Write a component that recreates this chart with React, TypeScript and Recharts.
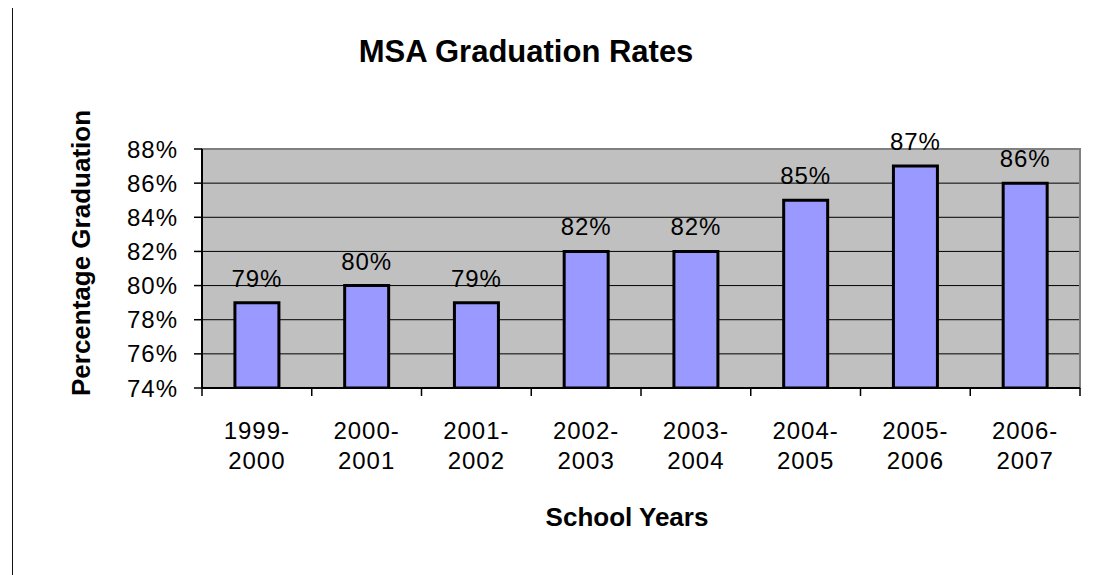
import { BarChart, Bar, XAxis, YAxis, CartesianGrid, ReferenceArea, LabelList } from "recharts";

const schoolYears = ["1999-2000", "2000-2001", "2001-2002", "2002-2003", "2003-2004", "2004-2005", "2005-2006", "2006-2007"];
const gradRates = [79, 80, 79, 82, 82, 85, 87, 86];
const yTicks = [74, 76, 78, 80, 82, 84, 86, 88];

const data = schoolYears.map((year, i) => ({ year, rate: gradRates[i] }));

const font = "'Liberation Sans', Arial, sans-serif";

function YearTick(props: any) {
  const { x, y, payload, index, visibleTicksCount } = props;
  const half = payload.offset || 0;
  const [a, b] = String(payload.value).split("-");
  return (
    <g>
      <line x1={x - half} x2={x - half} y1={y} y2={y + 8} stroke="#000" strokeWidth={1.5} />
      {index === visibleTicksCount - 1 && (
        <line x1={x + half} x2={x + half} y1={y} y2={y + 8} stroke="#000" strokeWidth={1.5} />
      )}
      <text x={x} y={y + 51} textAnchor="middle" fontSize={24} letterSpacing={1} fontFamily={font} fill="#000">
        {a + "-"}
      </text>
      <text x={x} y={y + 81} textAnchor="middle" fontSize={24} letterSpacing={1} fontFamily={font} fill="#000">
        {b}
      </text>
    </g>
  );
}

export default function App() {
  return (
    <div style={{ position: "absolute", left: 0, top: 0, width: 1104, height: 575, background: "#fff" }}>
      <BarChart
        width={1104}
        height={575}
        data={data}
        margin={{ top: 149, right: 24, left: 0, bottom: 0 }}
        barCategoryGap="30%"
      >
        <CartesianGrid vertical={false} stroke="#000" strokeWidth={1} fill="#c0c0c0" fillOpacity={1} />
        <ReferenceArea y1={74} y2={88} fill="none" stroke="#808080" strokeWidth={2} />
        <XAxis
          dataKey="year"
          height={187}
          axisLine={{ stroke: "#000", strokeWidth: 2 }}
          tickLine={false}
          tickSize={0}
          tickMargin={0}
          interval={0}
          tick={<YearTick />}
        />
        <YAxis
          width={202}
          domain={[74, 88]}
          ticks={yTicks}
          allowDataOverflow
          tickFormatter={(v: number) => v + "%"}
          axisLine={{ stroke: "#000", strokeWidth: 2 }}
          tickLine={{ stroke: "#000", strokeWidth: 1.5 }}
          tickSize={8}
          tickMargin={16}
          tick={{ fill: "#000", fontSize: 24, fontFamily: font, letterSpacing: 1 }}
        />
        <Bar dataKey="rate" fill="#9999ff" stroke="#000" strokeWidth={3} isAnimationActive={false}>
          <LabelList
            dataKey="rate"
            position="top"
            offset={16}
            formatter={(v: any) => v + "%"}
            fill="#000"
            fontSize={24}
            fontFamily={font}
            letterSpacing={1}
          />
        </Bar>
      </BarChart>
      <svg width={1104} height={575} style={{ position: "absolute", left: 0, top: 0, pointerEvents: "none" }}>
        <line x1={12.5} x2={12.5} y1={8} y2={575} stroke="#111" strokeWidth={1} />
        <text x={526} y={62} textAnchor="middle" fontSize={31} fontWeight="bold" fontFamily={font} fill="#000">
          MSA Graduation Rates
        </text>
        <text
          x={90}
          y={253}
          transform="rotate(-90 90 253)"
          textAnchor="middle"
          fontSize={26}
          fontWeight="bold"
          fontFamily={font}
          fill="#000"
        >
          Percentage Graduation
        </text>
        <text x={627} y={526} textAnchor="middle" fontSize={26} fontWeight="bold" fontFamily={font} fill="#000">
          School Years
        </text>
      </svg>
    </div>
  );
}
